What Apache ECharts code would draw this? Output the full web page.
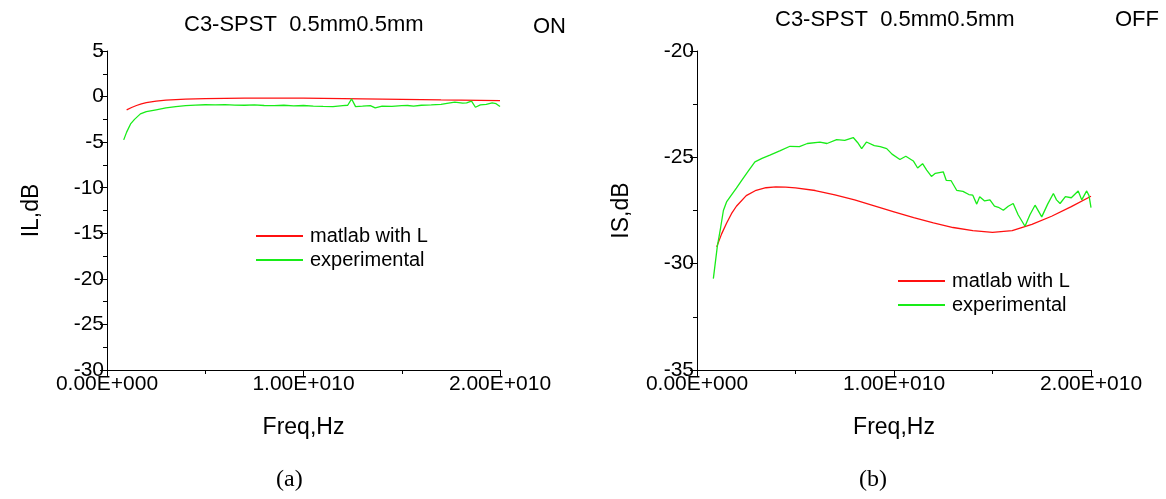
<!DOCTYPE html>
<html>
<head>
<meta charset="utf-8">
<script src="https://cdn.jsdelivr.net/npm/echarts@6/dist/echarts.min.js"></script>
<style>
html,body{margin:0;padding:0;background:#fff;}
#chart{width:1166px;height:499px;}
</style>
</head>
<body>
<div id="chart"></div>
<script>
// ---- data (frequency in GHz, values in dB) ----
const freqModel = [1.0,1.25,1.5,1.75,2.0,2.5,3.0,3.5,4.0,4.5,5,6,7,8,9,10,11,12,13,14,15,16,17,18,19,20];
const ilModel = [-1.46,-1.2,-0.98,-0.8,-0.67,-0.5,-0.4,-0.33,-0.29,-0.26,-0.23,-0.2,-0.18,-0.17,-0.17,-0.18,-0.2,-0.23,-0.26,-0.29,-0.31,-0.34,-0.37,-0.39,-0.42,-0.44];
const isModel = [-29.21,-28.6,-28.1,-27.65,-27.3,-26.8,-26.55,-26.43,-26.39,-26.4,-26.44,-26.56,-26.77,-27.0,-27.28,-27.56,-27.84,-28.08,-28.3,-28.45,-28.53,-28.45,-28.15,-27.77,-27.32,-26.83];

const freqExpIL = [0.85,1.0,1.2,1.4,1.7,2.0,2.5,3.0,3.5,4.0,4.5,5.0,5.5,6.0,6.5,7.0,7.5,8.0,8.5,9.0,9.5,10.0,10.5,11.0,11.5,12.0,12.25,12.45,12.65,13.0,13.4,13.65,14.0,14.5,15.0,15.3,15.6,16.0,16.5,17.0,17.3,17.7,18.1,18.3,18.55,18.75,19.0,19.3,19.6,19.8,20.0];
const ilExp = [-4.75,-3.9,-3.0,-2.5,-1.9,-1.65,-1.45,-1.25,-1.1,-1.0,-0.93,-0.9,-0.92,-0.88,-0.93,-0.95,-0.92,-0.98,-1.0,-0.95,-1.02,-0.98,-1.05,-1.08,-1.1,-1.0,-0.95,-0.26,-1.1,-1.05,-0.99,-1.24,-1.05,-1.08,-0.99,-0.98,-1.05,-0.95,-0.92,-0.85,-0.75,-0.62,-0.72,-0.7,-0.5,-1.17,-0.92,-0.85,-0.7,-0.78,-1.1];

const freqExpIS = [0.83,1.03,1.2,1.34,1.5,1.68,2.0,2.27,2.6,2.94,3.3,3.7,4.2,4.72,5.2,5.6,6.24,6.6,7.09,7.5,7.93,8.15,8.36,8.6,9.0,9.3,9.63,9.9,10.3,10.6,10.98,11.2,11.45,11.66,11.9,12.1,12.5,12.65,12.9,13.18,13.5,13.8,14.0,14.2,14.35,14.6,14.87,15.1,15.3,15.55,15.8,16.05,16.3,16.65,16.9,17.16,17.5,17.8,18.09,18.25,18.43,18.7,19.0,19.35,19.53,19.78,19.9,20.0];
const isExp = [-30.7,-29.2,-28.3,-27.5,-27.1,-26.86,-26.45,-26.08,-25.65,-25.21,-25.05,-24.9,-24.7,-24.48,-24.5,-24.35,-24.28,-24.35,-24.17,-24.2,-24.07,-24.3,-24.59,-24.28,-24.45,-24.5,-24.59,-24.85,-25.1,-24.95,-25.17,-25.5,-25.3,-25.6,-25.9,-25.75,-25.68,-26.08,-26.1,-26.55,-26.6,-26.75,-26.78,-27.2,-26.85,-27.05,-27.0,-27.3,-27.35,-27.49,-27.3,-27.17,-27.7,-28.24,-27.7,-27.25,-27.8,-27.2,-26.7,-27.0,-27.17,-26.85,-26.9,-26.58,-27.0,-26.58,-26.8,-27.36];

const seriesNames = ['matlab with L','experimental'];
const titleText = 'C3-SPST  0.5mm0.5mm';
const stateLabels = ['ON','OFF'];
const yNames = ['IL,dB','IS,dB'];
const xName = 'Freq,Hz';
const captions = ['(a)','(b)'];

function pairs(fs, vs){ return fs.map((f,i)=>[f*1e9, vs[i]]); }
function sciFmt(v){
  const s = v.toExponential(2).toUpperCase();
  const m = s.match(/^(-?[\d.]+)E([+-])(\d+)$/);
  return m[1] + 'E' + m[2] + m[3].padStart(3,'0');
}

const FONT = 'Liberation Sans, Arial, sans-serif';
const RED = '#ff1010', GREEN = '#18ec18';

function xAxis(gi){
  return {
    type:'value', gridIndex:gi, min:0, max:2e10, interval:1e10,
    name:xName, nameLocation:'middle', nameGap:46,
    nameTextStyle:{fontFamily:FONT,fontSize:23,color:'#000'},
    axisLine:{show:true,onZero:false,lineStyle:{color:'#000',width:1}},
    axisTick:{show:true,inside:false,length:7,lineStyle:{color:'#000'}},
    minorTick:{show:true,splitNumber:2,length:4,lineStyle:{color:'#000'}},
    splitLine:{show:false},
    axisLabel:{formatter:sciFmt,fontFamily:FONT,fontSize:21,color:'#000',margin:4}
  };
}
function yAxis(gi,min,max,name,gap){
  return {
    type:'value', gridIndex:gi, min:min, max:max, interval:5,
    name:name, nameLocation:'middle', nameGap:gap, nameRotate:90,
    nameTextStyle:{fontFamily:FONT,fontSize:23,color:'#000'},
    axisLine:{show:true,onZero:false,lineStyle:{color:'#000',width:1}},
    axisTick:{show:true,inside:false,length:7,lineStyle:{color:'#000'}},
    minorTick:{show:true,splitNumber:2,length:4,lineStyle:{color:'#000'}},
    splitLine:{show:false},
    axisLabel:{fontFamily:FONT,fontSize:21,color:'#000',margin:3}
  };
}
function line(name,gi,data,color){
  return {type:'line',name:name,xAxisIndex:gi,yAxisIndex:gi,data:data,
    symbol:'none',smooth:false,lineStyle:{color:color,width:1.3},itemStyle:{color:color},
    animation:false};
}
function legend(left,top){
  return {orient:'vertical',left:left,top:top,data:seriesNames,icon:'rect',
    itemWidth:47,itemHeight:2,itemGap:4,
    textStyle:{fontFamily:FONT,fontSize:20,color:'#000',padding:[0,0,0,2]},
    selectedMode:false};
}

const chart = echarts.init(document.getElementById('chart'),null,{renderer:'canvas'});
chart.setOption({
  backgroundColor:'#fff',
  animation:false,
  title:[
    {text:titleText,left:179,top:9,textStyle:{fontFamily:FONT,fontSize:22,fontWeight:'normal',color:'#000'}},
    {text:stateLabels[0],left:528,top:11,textStyle:{fontFamily:FONT,fontSize:22,fontWeight:'normal',color:'#000'}},
    {text:titleText,left:770,top:4,textStyle:{fontFamily:FONT,fontSize:22,fontWeight:'normal',color:'#000'}},
    {text:stateLabels[1],left:1110,top:4,textStyle:{fontFamily:FONT,fontSize:22,fontWeight:'normal',color:'#000'}}
  ],
  grid:[
    {left:107,top:51,width:393,height:319},
    {left:697,top:51,width:394,height:319}
  ],
  xAxis:[xAxis(0),xAxis(1)],
  yAxis:[yAxis(0,-30,5,yNames[0],64),yAxis(1,-35,-20,yNames[1],64)],
  legend:[legend(251,221),legend(893,266)],
  series:[
    line(seriesNames[0],0,pairs(freqModel,ilModel),RED),
    line(seriesNames[1],0,pairs(freqExpIL,ilExp),GREEN),
    line(seriesNames[0],1,pairs(freqModel,isModel),RED),
    line(seriesNames[1],1,pairs(freqExpIS,isExp),GREEN)
  ],
  graphic:[
    {type:'text',left:276,top:468,style:{text:captions[0],font:'24px "Liberation Serif", "Times New Roman", serif',fill:'#000'}},
    {type:'text',left:859,top:468,style:{text:captions[1],font:'24px "Liberation Serif", "Times New Roman", serif',fill:'#000'}}
  ]
});
</script>
</body>
</html>
